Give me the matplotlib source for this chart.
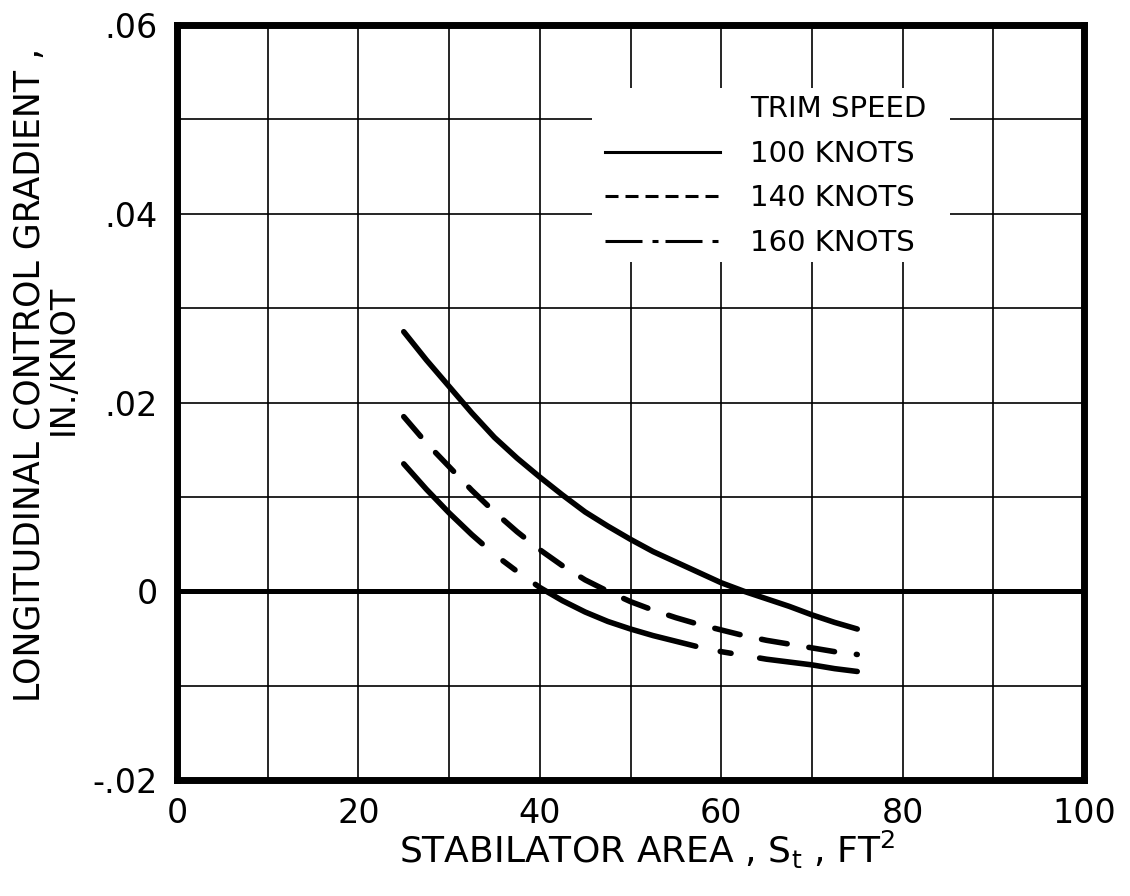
import matplotlib
matplotlib.use("Agg")
import matplotlib.pyplot as plt
from matplotlib.lines import Line2D
from matplotlib.patches import Rectangle

# ---- data ----
area = [25, 27.5, 30, 32.5, 35, 37.5, 40, 42.5, 45, 47.5, 50,
        52.5, 55, 57.5, 60, 62.5, 65, 67.5, 70, 72.5, 75]
grad_100 = [0.0275, 0.0245, 0.0217, 0.0189, 0.0163, 0.0141, 0.0121, 0.0102, 0.0084, 0.0069, 0.0055,
            0.0042, 0.0031, 0.0020, 0.0009, 0.0000, -0.0008, -0.0016, -0.0025, -0.0033, -0.0040]
grad_140 = [0.0185, 0.0157, 0.0132, 0.0107, 0.0084, 0.0063, 0.0044, 0.0027, 0.0012, 0.0000, -0.0011,
            -0.0020, -0.0028, -0.0035, -0.0041, -0.0047, -0.0052, -0.0056, -0.0060, -0.0064, -0.0067]
grad_160 = [0.0135, 0.0108, 0.0083, 0.0060, 0.0039, 0.0021, 0.0004, -0.0010, -0.0022, -0.0032, -0.0040,
            -0.0047, -0.0053, -0.0059, -0.0064, -0.0068, -0.0072, -0.0075, -0.0078, -0.0082, -0.0085]

series_labels = ["100 KNOTS", "140 KNOTS", "160 KNOTS"]
legend_title = "TRIM SPEED"

x_ticks = [0, 20, 40, 60, 80, 100]
x_ticklabels = ["0", "20", "40", "60", "80", "100"]
y_ticks = [0.06, 0.04, 0.02, 0.0, -0.02]
y_ticklabels = [".06", ".04", ".02", "0", "-.02"]

xlabel = "STABILATOR AREA , S$_{\\mathrm{t}}$ , FT$^{2}$"
ylabel_1 = "LONGITUDINAL CONTROL GRADIENT ,"
ylabel_2 = "IN./KNOT"

# ---- figure ----
plt.rcParams['font.family'] = ['DejaVu Sans']
plt.rcParams['lines.scale_dashes'] = False

W, H = 1130, 896
fig = plt.figure(figsize=(W / 100, H / 100), dpi=100)
L, R, T, B = 177, 1084, 25, 780
ax = fig.add_axes([L / W, 1 - B / H, (R - L) / W, (B - T) / H])

ax.set_xlim(0, 100)
ax.set_ylim(-0.02, 0.06)

# grid every 10 / 0.01, labels every 20 / 0.02
ax.set_xticks(x_ticks)
ax.set_xticklabels(x_ticklabels)
ax.set_yticks(y_ticks)
ax.set_yticklabels(y_ticklabels)
ax.set_xticks(range(0, 101, 10), minor=True)
ax.set_yticks([i / 100 for i in range(-2, 7)], minor=True)
ax.grid(True, which='both', color='black', lw=1.2)
ax.set_axisbelow(True)
ax.tick_params(which='both', length=0)
ax.tick_params(axis='x', which='major', labelsize=24, pad=12)
ax.tick_params(axis='y', which='major', labelsize=24, pad=14)

for s in ax.spines.values():
    s.set_linewidth(5)
    s.set_color('black')

ax.axhline(0, color='black', lw=3.6, zorder=1.5)

PX = 0.72  # points per pixel
lw = 4.0
ax.plot(area, grad_100, color='black', lw=lw, solid_capstyle='round',
        solid_joinstyle='round', zorder=3)
ax.plot(area, grad_140, color='black', lw=lw, dash_capstyle='round', dash_joinstyle='round',
        zorder=3, dashes=(26 * PX, 22 * PX))
ax.plot(area, grad_160, color='black', lw=lw, dash_capstyle='round', dash_joinstyle='round',
        zorder=3,
        dashes=(112 * PX, 27 * PX, 15 * PX, 25 * PX, 173 * PX, 25 * PX, 11 * PX, 29 * PX))

# legend background (white box hiding grid)
ax.add_patch(Rectangle((0.4576, 0.6861), 0.8523 - 0.4576, 0.9166 - 0.6861,
                       transform=ax.transAxes, facecolor='white', edgecolor='none', zorder=2))

hl = 2.2
handles = [
    Line2D([], [], color='none'),
    Line2D([], [], color='black', lw=hl),
    Line2D([], [], color='black', lw=hl, dashes=(13 * PX, 7 * PX)),
    Line2D([], [], color='black', lw=hl, dashes=(37 * PX, 10 * PX, 6 * PX, 7 * PX)),
]
labels = [legend_title] + series_labels
leg = ax.legend(handles, labels, loc='upper left', bbox_to_anchor=(0.472, 0.907),
                frameon=False, fontsize=21, handlelength=3.95, handletextpad=1.03,
                labelspacing=0.57, borderpad=0, borderaxespad=0)
leg.set_zorder(4)

ax.set_xlabel(xlabel, fontsize=26, va='center')
ax.xaxis.set_label_coords((647 - L) / (R - L), (B - 850) / (B - T))

fig.text(30 / W, 1 - 375 / H, ylabel_1, rotation=90, ha='center', va='center', fontsize=25)
fig.text(63 / W, 1 - 360 / H, ylabel_2, rotation=90, ha='center', va='center', fontsize=24)

fig.savefig("out.png", dpi=100, facecolor='white')
